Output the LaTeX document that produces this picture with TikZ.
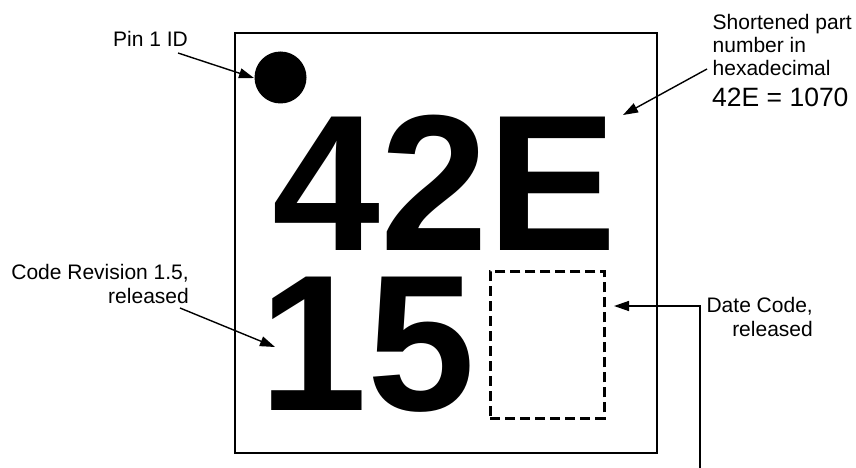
\documentclass[tikz,border=0pt]{standalone}
\usepackage{fontspec}
\setmainfont{Liberation Sans}
\usetikzlibrary{arrows.meta}
\begin{document}
\begin{tikzpicture}[x=1pt,y=-1pt,
  lbl/.style={inner sep=0pt,font=\fontsize{21}{23.2}\selectfont},
  big/.style={inner sep=0pt,font=\fontsize{194}{194}\selectfont\bfseries},
  conn/.style={line width=1.4pt,-{Triangle[length=15pt,width=10pt]}},
  chip/.style={draw,line width=1.6pt},
  dbox/.style={draw,line width=2.6pt,dash pattern=on 10pt off 5pt}]
\useasboundingbox (0,0) rectangle (856,468);
% package outline
\node[chip,minimum width=422pt,minimum height=420pt,inner sep=0pt,anchor=north west] (pkg) at (234,32) {};
% pin 1 dot
\fill (280.5,77.5) circle (26);
\coordinate (dot) at (254,78);
% big markings
\node[big,anchor=base west] (pn) at (272,250) {42E};
\node[big,anchor=base west] (rev) at (259,410) {15};
\node[dbox,minimum width=114pt,minimum height=147pt,inner sep=0pt,anchor=north west] (date) at (489,270) {};
% labels
\node[lbl,anchor=base west] (pinlbl) at (113,47) {Pin 1 ID};
\node[lbl,anchor=base west,align=left] (snlbl) at (712.5,75.5) {Shortened part\\number in\\hexadecimal};
\node[inner sep=0pt,anchor=base west,font=\fontsize{26.5}{30}\selectfont] (hexlbl) at (712,106.5) {42E = 1070};
\node[lbl,anchor=base east,align=right] (revlbl) at (189,303) {Code Revision 1.5,\\released};
\node[lbl,anchor=base east,align=right] (datelbl) at (813,336) {Date Code,\\released};
% connector end points
\coordinate (pinA) at (178,53);
\coordinate (snA) at (707,69);
\coordinate (snB) at (623,115);
\coordinate (revA) at (180,308);
\coordinate (revB) at (275,347);
\coordinate (dateA) at (700,468);
\coordinate (dateK) at (700,306);
\coordinate (dateB) at (614,306);
% connectors
\draw[conn] (pinA) -- (dot);
\draw[conn] (snA) -- (snB);
\draw[conn] (revA) -- (revB);
\draw[conn] (dateA) -- (dateK) -- (dateB);
\end{tikzpicture}
\end{document}
